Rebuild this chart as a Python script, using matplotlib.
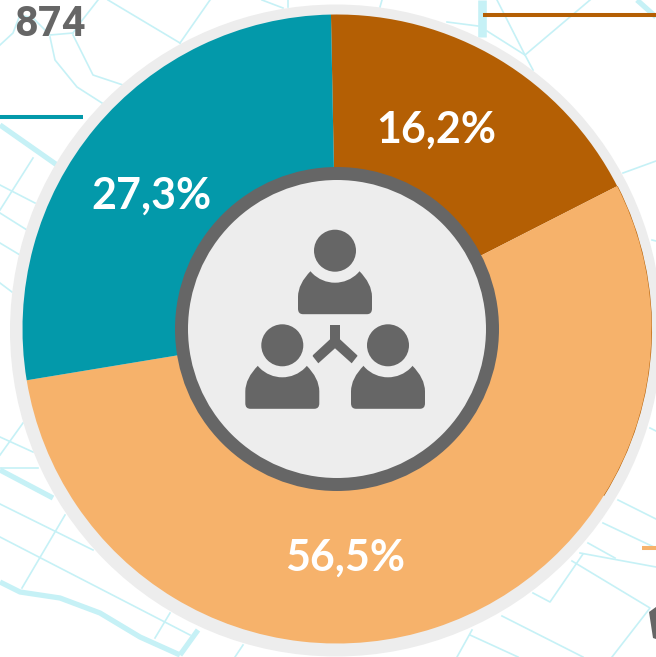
import matplotlib
matplotlib.use('Agg')
import matplotlib.pyplot as plt
from matplotlib.patches import Circle, Wedge, PathPatch, Polygon
from matplotlib.path import Path

# drawn shares as measured on the picture, the printed labels differ a little
shares = [17.8, 54.9, 27.3]
labels = ['16,2%', '56,5%', '27,3%']
colors = ['#B45F04', '#F6B26B', '#0399AA']
label_pos = [(436, 130), (345, 558), (151, 196)]
total = '874'

GREY = '#666666'
LIGHT = '#EDEDED'
ROAD = '#C6F1F6'

# background map, pixel coords
thin_roads = [
    [(108, 0), (180, 43)], [(210, 0), (180, 43)], [(98, 0), (80, 23), (73, 33)],
    [(50, 37), (55, 60), (77, 87), (102, 103)], [(73, 35), (93, 75), (123, 85)],
    [(33, 18), (50, 35), (73, 33)], [(0, 45), (13, 33), (20, 15), (33, 18)],
    [(33, 158), (0, 210)], [(0, 185), (35, 203)], [(0, 213), (27, 230)],
    [(0, 243), (20, 255)], [(0, 283), (12, 292)], [(288, 0), (288, 7)], [(262, 0), (283, 8)],
    [(382, 0), (380, 7)], [(447, 22), (478, 26)], [(487, 31), (525, 55)],
    [(497, 0), (525, 55), (533, 70)], [(590, 0), (525, 55)], [(623, 173), (656, 161)],
    [(652, 240), (656, 241)],
    [(0, 437), (33, 452)], [(23, 423), (0, 455)], [(0, 468), (38, 468)], [(0, 504), (93, 550)],
    [(65, 515), (22, 588)], [(0, 537), (190, 635)], [(170, 613), (155, 638)], [(243, 645), (235, 657)],
    [(618, 500), (656, 519)], [(603, 523), (656, 548)], [(588, 543), (615, 558)],
    [(580, 553), (656, 567)], [(583, 554), (550, 602), (533, 593)],
    [(572, 561), (650, 608), (612, 657)], [(502, 616), (583, 657)], [(470, 635), (518, 657)],
    [(472, 630), (457, 657)], [(650, 428), (656, 431)],
]
thick_roads = [
    [(0, 125), (57, 165)], [(637, 0), (656, 17)],
    [(0, 470), (53, 498)], [(198, 630), (180, 655)],
    [(0, 582), (20, 592), (60, 598), (100, 613), (140, 637), (180, 655)],
]
wide_road = [(482, 0), (482, 37)]
# leader lines: x0, x1, y, colour
leaders = [(0, 83, 117, colors[2]), (483, 656, 15, colors[0]), (642, 656, 548, colors[1])]
# heads of the three people in the icon
heads = [(335, 250.7), (282.3, 345.3), (388, 345.3)]


def person(ax, cx, cy):
    verts = [(cx - 24, cy + 20), (cx - 37, cy + 33), (cx - 37, cy + 46), (cx - 37, cy + 58),
             (cx - 37, cy + 63.5), (cx - 32, cy + 63.5), (cx + 32, cy + 63.5),
             (cx + 37, cy + 63.5), (cx + 37, cy + 58), (cx + 37, cy + 46), (cx + 37, cy + 33),
             (cx + 24, cy + 20), (cx - 24, cy + 20)]
    codes = [Path.MOVETO, Path.CURVE3, Path.CURVE3, Path.LINETO, Path.CURVE3, Path.CURVE3,
             Path.LINETO, Path.CURVE3, Path.CURVE3, Path.LINETO, Path.CURVE3, Path.CURVE3,
             Path.CLOSEPOLY]
    ax.add_patch(PathPatch(Path(verts, codes), fc=GREY, ec='none', zorder=6))
    ax.add_patch(Circle((cx, cy), 32, fc=LIGHT, ec='none', zorder=7))
    ax.add_patch(Circle((cx, cy), 21, fc=GREY, ec='none', zorder=8))


fig = plt.figure(figsize=(6.56, 6.57), dpi=100)
ax = fig.add_axes([0, 0, 1, 1])

# y axis is inverted below, so pie angles run clockwise on screen
ax.pie(shares, colors=colors, startangle=-91.1, counterclock=True, center=(337, 329), radius=314.5,
       wedgeprops={'width': 156, 'linewidth': 0, 'zorder': 3})
ax.set_xlim(0, 656)
ax.set_ylim(657, 0)
ax.axis('off')

for r in thin_roads:
    ax.plot([p[0] for p in r], [p[1] for p in r], color=ROAD, lw=1.2, zorder=1, solid_joinstyle='round')
for r in thick_roads:
    ax.plot([p[0] for p in r], [p[1] for p in r], color=ROAD, lw=3.8, zorder=1, solid_joinstyle='round',
            solid_capstyle='butt')
ax.plot([p[0] for p in wide_road], [p[1] for p in wide_road], color=ROAD, lw=6.2, zorder=1,
        solid_capstyle='butt')
for x0, x1, y, c in leaders:
    ax.plot([x0, x1], [y, y], color=c, lw=2.9, zorder=2, solid_capstyle='butt')

# small bit of a neighbouring icon at the edge
ax.add_patch(Polygon([(649, 612), (656, 607), (656, 639), (653, 638)], fc=GREY, ec='none', zorder=2))

ax.add_patch(Circle((336, 330.5), 326, fc=LIGHT, ec='none', zorder=2))
# thin brown rim on the right of the orange part
ax.add_patch(Wedge((337, 329), 315, -27, 32, width=3, fc=colors[0], ec='none', zorder=2.5))

ax.add_patch(Circle((337, 329), 155.5, fc=LIGHT, ec=GREY, lw=13 * 0.72, zorder=5))
for cx, cy in heads:
    person(ax, cx, cy)
# the Y between the people
ax.add_patch(Polygon([(330, 325), (340, 325), (340, 339.3), (357.7, 355.7), (351.7, 363.3),
                      (335, 348.3), (318.3, 363.3), (312.3, 355.7), (330, 339.3)],
                     fc=GREY, ec='none', zorder=6))

for t, (x, y) in zip(labels, label_pos):
    ax.text(x, y, t, color='white', fontsize=31, fontweight='bold', family='Lato',
            ha='center', va='center', zorder=9)
ax.text(14, 24, total, color=GREY, fontsize=30, fontweight='bold', family='Roboto',
        ha='left', va='center', zorder=9)

fig.savefig('out.png', dpi=100)
